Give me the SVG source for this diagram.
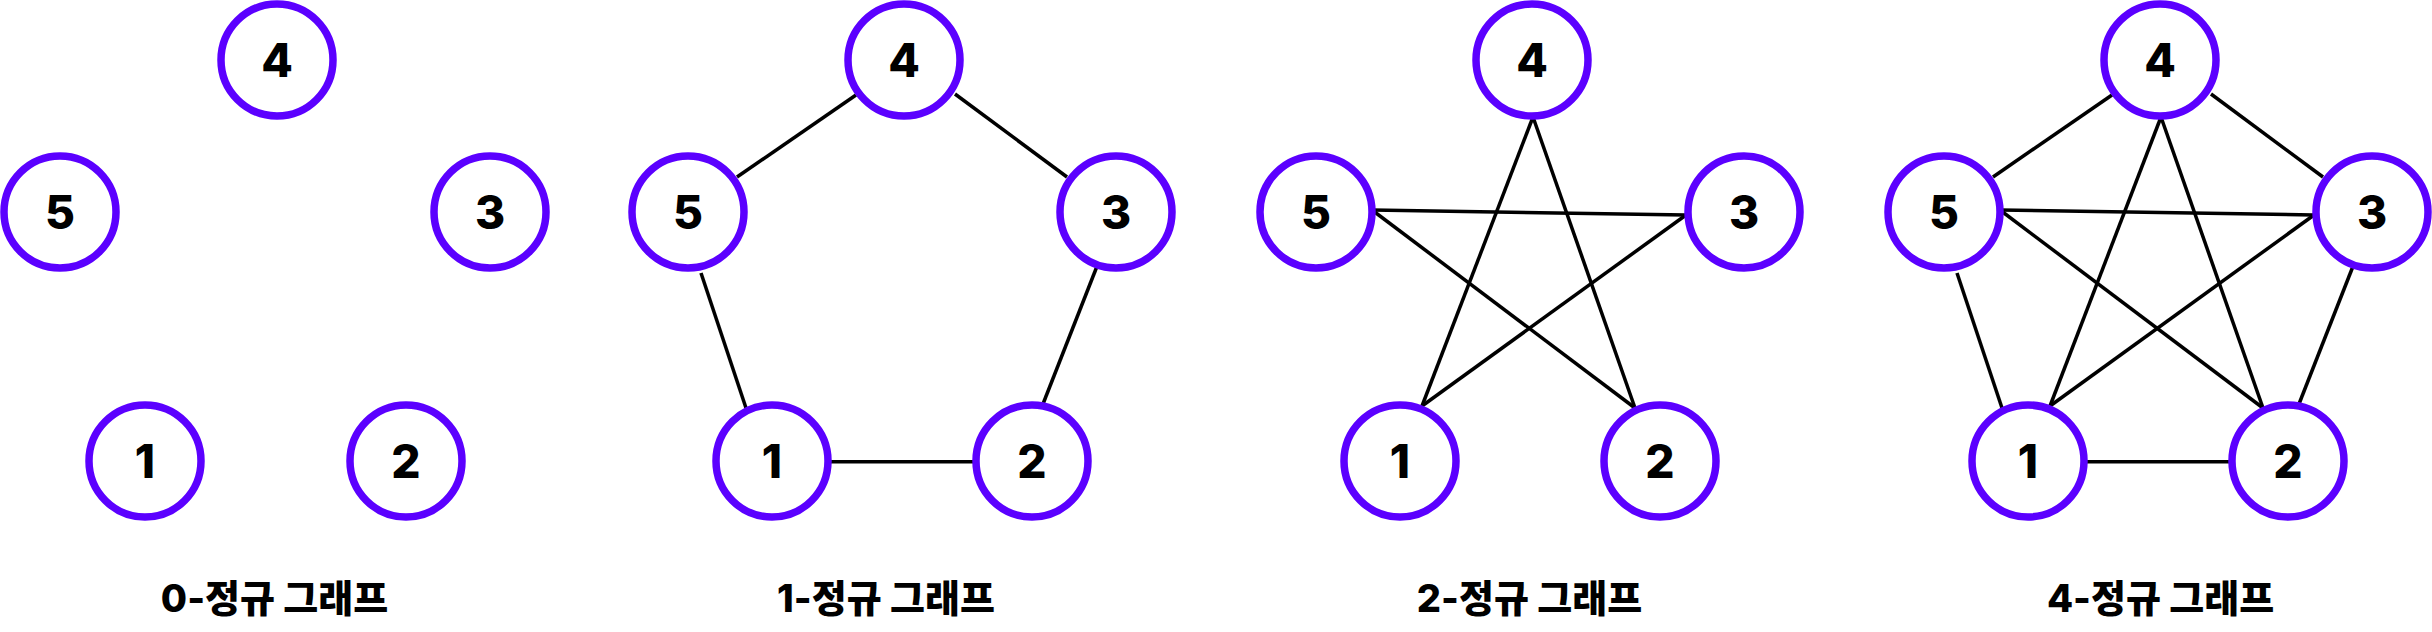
<svg xmlns="http://www.w3.org/2000/svg" width="2432" height="632" viewBox="0 0 2432 632">
<style>
.n circle{fill:#fff;stroke:#5B00FF;stroke-width:7.5}
.n text{font-family:Inter,"Noto Sans",sans-serif;font-weight:800;font-size:46px;fill:#000;text-anchor:middle}
.e line{stroke:#000;stroke-width:3.5;stroke-linecap:butt}
.lbl{font-family:Inter,"Noto Sans CJK KR",sans-serif;font-weight:800;font-size:38px;fill:#000;text-anchor:middle}
</style>
<rect width="2432" height="632" fill="#fff"/>
<g id="connectors" class="e">
<!-- 1-regular (cycle) -->
<line x1="856" y1="95" x2="737" y2="177"/>
<line x1="955" y1="94" x2="1067" y2="177"/>
<line x1="701" y1="273" x2="746" y2="408"/>
<line x1="1097.5" y1="265" x2="1042" y2="406.5"/>
<line x1="831" y1="461.8" x2="973" y2="461.8"/>
<!-- 2-regular (star) -->
<line x1="1372" y1="210" x2="1686" y2="215"/>
<line x1="1372" y1="210" x2="1635" y2="408"/>
<line x1="1533" y1="117" x2="1422" y2="406"/>
<line x1="1533" y1="117" x2="1635" y2="408"/>
<line x1="1686" y1="215" x2="1422" y2="406"/>
<!-- 4-regular (complete) -->
<line x1="2112" y1="95" x2="1993" y2="177"/>
<line x1="2211" y1="94" x2="2323" y2="177"/>
<line x1="1957" y1="273" x2="2002" y2="408"/>
<line x1="2353.5" y1="265" x2="2298" y2="406.5"/>
<line x1="2087" y1="461.8" x2="2229" y2="461.8"/>
<line x1="2000" y1="210" x2="2314" y2="215"/>
<line x1="2000" y1="210" x2="2263" y2="408"/>
<line x1="2161" y1="117" x2="2050" y2="406"/>
<line x1="2161" y1="117" x2="2263" y2="408"/>
<line x1="2314" y1="215" x2="2050" y2="406"/>
</g>
<!-- panel 0 -->
<g id="p0-n5" class="n"><circle cx="60" cy="212" r="56"/><text x="60" y="229">5</text></g>
<g id="p0-n4" class="n"><circle cx="277" cy="60" r="56"/><text x="277" y="77">4</text></g>
<g id="p0-n3" class="n"><circle cx="490" cy="212" r="56"/><text x="490" y="229">3</text></g>
<g id="p0-n1" class="n"><circle cx="145" cy="461" r="56"/><text x="145" y="478">1</text></g>
<g id="p0-n2" class="n"><circle cx="406" cy="461" r="56"/><text x="406" y="478">2</text></g>
<!-- panel 1 -->
<g id="p1-n5" class="n"><circle cx="688" cy="212" r="56"/><text x="688" y="229">5</text></g>
<g id="p1-n4" class="n"><circle cx="904" cy="60" r="56"/><text x="904" y="77">4</text></g>
<g id="p1-n3" class="n"><circle cx="1116" cy="212" r="56"/><text x="1116" y="229">3</text></g>
<g id="p1-n1" class="n"><circle cx="772" cy="461" r="56"/><text x="772" y="478">1</text></g>
<g id="p1-n2" class="n"><circle cx="1032" cy="461" r="56"/><text x="1032" y="478">2</text></g>
<!-- panel 2 -->
<g id="p2-n5" class="n"><circle cx="1316" cy="212" r="56"/><text x="1316" y="229">5</text></g>
<g id="p2-n4" class="n"><circle cx="1532" cy="60" r="56"/><text x="1532" y="77">4</text></g>
<g id="p2-n3" class="n"><circle cx="1744" cy="212" r="56"/><text x="1744" y="229">3</text></g>
<g id="p2-n1" class="n"><circle cx="1400" cy="461" r="56"/><text x="1400" y="478">1</text></g>
<g id="p2-n2" class="n"><circle cx="1660" cy="461" r="56"/><text x="1660" y="478">2</text></g>
<!-- panel 4 -->
<g id="p4-n5" class="n"><circle cx="1944" cy="212" r="56"/><text x="1944" y="229">5</text></g>
<g id="p4-n4" class="n"><circle cx="2160" cy="60" r="56"/><text x="2160" y="77">4</text></g>
<g id="p4-n3" class="n"><circle cx="2372" cy="212" r="56"/><text x="2372" y="229">3</text></g>
<g id="p4-n1" class="n"><circle cx="2028" cy="461" r="56"/><text x="2028" y="478">1</text></g>
<g id="p4-n2" class="n"><circle cx="2288" cy="461" r="56"/><text x="2288" y="478">2</text></g>
<g id="labels">
<text class="lbl" x="274.5" y="612">0-정규 그래프</text>
<text class="lbl" x="886" y="612">1-정규 그래프</text>
<text class="lbl" x="1529.5" y="612">2-정규 그래프</text>
<text class="lbl" x="2160.5" y="612">4-정규 그래프</text>
</g>
</svg>
